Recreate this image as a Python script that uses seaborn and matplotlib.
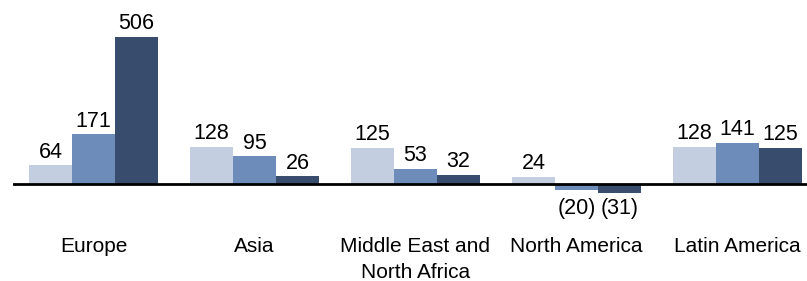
import matplotlib
matplotlib.use('Agg')
import matplotlib.pyplot as plt
import pandas as pd
import seaborn as sns

regions = ['Europe', 'Asia', 'Middle East and\nNorth Africa', 'North America', 'Latin America']
series = ['Series 1', 'Series 2', 'Series 3']
values_1 = [64, 128, 125, 24, 128]
values_2 = [171, 95, 53, -20, 141]
values_3 = [506, 26, 32, -31, 125]
colors = ['#c4cee1', '#6d8cb9', '#384d6d']


def fmt(v):
    return '({})'.format(-v) if v < 0 else str(v)


def plot_data():
    df = pd.DataFrame({
        'region': regions * 3,
        'series': [s for s in series for _ in regions],
        'value': values_1 + values_2 + values_3,
    })

    sns.set_style('white')
    plt.rcParams['font.family'] = ['Liberation Sans', 'DejaVu Sans']

    fig = plt.figure(figsize=(8.07, 2.81), dpi=100)
    ax = fig.add_axes([13 / 807, 81 / 281, 805 / 807, 200 / 281])

    sns.barplot(data=df, x='region', y='value', hue='series', order=regions,
                hue_order=series, palette=colors, width=0.8, saturation=1,
                legend=False, linewidth=0, edgecolor='none', ax=ax)

    for cont, vals in zip(ax.containers, [values_1, values_2, values_3]):
        ax.bar_label(cont, labels=[fmt(v) if v >= 0 else '' for v in vals],
                     padding=2, fontsize=15.5, color='black')
        # negative values hang at the same depth under the baseline
        for bar, v in zip(cont, vals):
            if v < 0:
                ax.annotate(fmt(v), xy=(bar.get_x() + bar.get_width() / 2, 0),
                            xytext=(0, -10), textcoords='offset points',
                            ha='center', va='top', fontsize=15.5, color='black')

    ax.axhline(0, color='black', lw=2)
    ax.set_xlim(-0.5, 4.5)
    ax.set_ylim(-55, 633)
    ax.set_xlabel('')
    ax.set_ylabel('')
    ax.set_yticks([])
    ax.tick_params(axis='x', length=0, pad=27, labelsize=15, labelcolor='black')
    for lbl in ax.get_xticklabels():
        lbl.set_linespacing(1.45)
    sns.despine(ax=ax, left=True, bottom=True)

    fig.savefig('out.png', dpi=100)


plot_data()
